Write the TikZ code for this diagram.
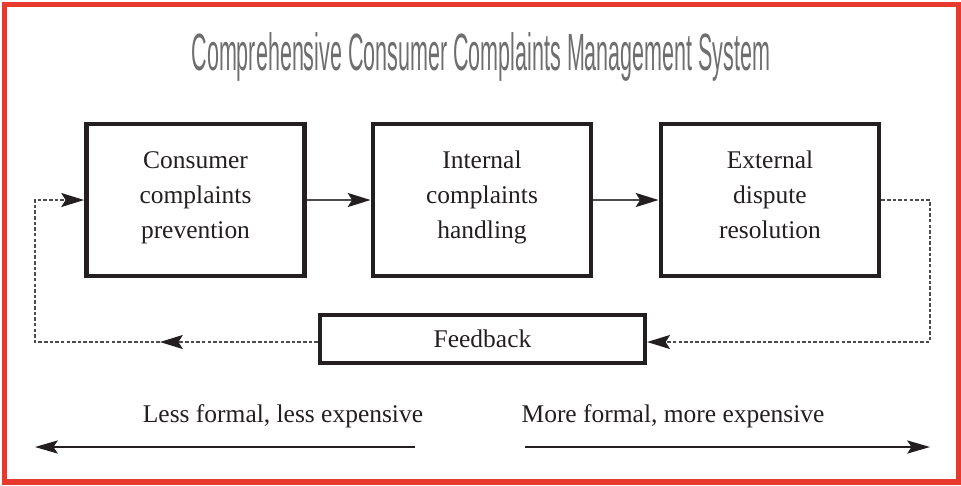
\documentclass[tikz,border=0pt]{standalone}
\usepackage{fontspec}
\setmainfont{Liberation Serif}
\newfontfamily\titlefont{Liberation Sans}
\usetikzlibrary{arrows.meta}
\definecolor{framered}{HTML}{E8392E}
\definecolor{titlegray}{HTML}{6E6E6E}
\definecolor{inkblack}{HTML}{231F20}
\begin{document}
\begin{tikzpicture}[x=0.02cm,y=-0.02cm,
  stage/.style={draw=inkblack,line width=2.8pt,minimum width=4.36cm,minimum height=3.04cm,
    text width=4cm,align=center,font=\fontsize{14.5}{19.8}\selectfont,text=inkblack},
  fbbox/.style={draw=inkblack,line width=2.5pt,minimum width=6.5cm,minimum height=0.96cm,
    font=\fontsize{14.5}{19.8}\selectfont,text=inkblack},
  flow/.style={draw=black!70,line width=1.1pt,-{Stealth[length=13pt,width=8pt,inset=2.5pt,color=inkblack]}},
  fbline/.style={draw=black!70,line width=0.6pt,dash pattern=on 2pt off 1.2pt},
  fbhead/.style={-{Stealth[length=13pt,width=8pt,inset=2.5pt,color=inkblack]}},
  span/.style={draw=inkblack,line width=0.8pt,-{Stealth[length=13pt,width=7.5pt,inset=2.5pt]}},
  lbl/.style={anchor=base,font=\fontsize{14.5}{17}\selectfont,text=inkblack}]
\useasboundingbox (0,0) rectangle (961,485);
\draw[framered,line width=2.9pt] (4.5,4.5) rectangle (958.5,482);

\node[anchor=base,text=titlegray] (title) at (481,70)
  {\resizebox{11.58cm}{0.76cm}{\titlefont\fontsize{29}{30}\selectfont Comprehensive Consumer Complaints Management System}};

\node[stage] (prev) at (195.5,200) {Consumer\\complaints\\prevention\strut};
\node[stage] (intl) at (482,200) {Internal\\complaints\\handling\strut};
\node[stage] (extl) at (770,200) {External\\dispute\\resolution\strut};
\node[fbbox] (fbk) at (482.5,339) {Feedback};

\draw[flow] (prev.east) -- (intl.west);
\draw[flow] (intl.east) -- (extl.west);

\coordinate (rtcorner) at (930,342);
\coordinate (ltcorner) at (35,342);
\coordinate (lmid) at (160,342);
\draw[fbline,fbhead] (extl.east) -| (rtcorner) -- (fbk.east |- rtcorner);
\draw[fbline,fbhead] (fbk.west |- lmid) -- (lmid);
\draw[fbline,fbhead] (lmid) -- (ltcorner) |- (prev.west);

\node[lbl] (less) at (283,422) {Less formal, less expensive};
\node[lbl] (more) at (673,422) {More formal, more expensive};
\coordinate (la) at (415,447);
\coordinate (lb) at (35,447);
\coordinate (ra) at (525,447);
\coordinate (rb) at (930,447);
\draw[span] (la) -- (lb);
\draw[span] (ra) -- (rb);
\end{tikzpicture}
\end{document}
